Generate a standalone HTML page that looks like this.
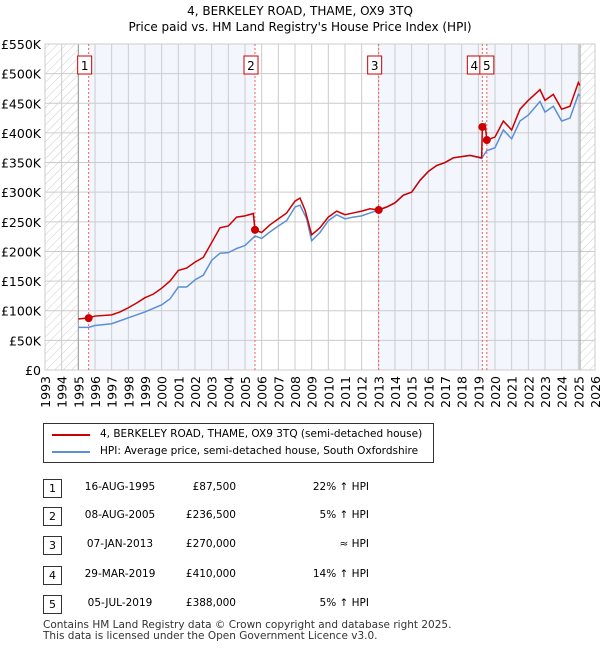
<!DOCTYPE html>
<html><head><meta charset="utf-8"><style>
body{margin:0;width:600px;height:650px;background:#fff;font-family:"DejaVu Sans","Liberation Sans",sans-serif;position:relative;overflow:hidden}
.t{position:absolute;font-size:12px;color:#000}
.box{position:absolute;width:17px;height:17px;border:1px solid #333;font-size:11px;text-align:center;line-height:17px}
</style></head><body>
<div class="t" style="left:0;width:600px;text-align:center;top:4px;font-size:12px">4, BERKELEY ROAD, THAME, OX9 3TQ</div>
<div class="t" style="left:0;width:600px;text-align:center;top:20px;font-size:12px">Price paid vs. HM Land Registry's House Price Index (HPI)</div>
<svg id="chart" width="600" height="420" style="position:absolute;left:0;top:0" font-family="DejaVu Sans, Liberation Sans, sans-serif">
<defs><pattern id="hatch" width="6" height="6" patternUnits="userSpaceOnUse" patternTransform="rotate(45)"><line x1="0" y1="0" x2="0" y2="6" stroke="#ccc" stroke-width="1"/></pattern></defs>
</svg>
<div style="position:absolute;left:43px;top:423px;width:389px;height:38px;border:1px solid #333">
<div style="position:absolute;left:8px;top:10px;width:38px;height:2px;background:#cc0000"></div>
<div class="t" style="left:56px;top:4px;font-size:10.5px">4, BERKELEY ROAD, THAME, OX9 3TQ (semi-detached house)</div>
<div style="position:absolute;left:8px;top:27px;width:38px;height:2px;background:#5b8fd6"></div>
<div class="t" style="left:56px;top:21px;font-size:10.5px">HPI: Average price, semi-detached house, South Oxfordshire</div>
</div>
<div id="tbl"></div>
<div class="t" style="left:43px;top:620px;font-size:10.5px;line-height:11px;color:#333">Contains HM Land Registry data © Crown copyright and database right 2025.<br>This data is licensed under the Open Government Licence v3.0.</div>
<script>
const saleYears=[1995.62,2005.6,2013.02,2019.24,2019.51];
const salePrices=[87.5,236.5,270,410,388];
const saleDates=["16-AUG-1995","08-AUG-2005","07-JAN-2013","29-MAR-2019","05-JUL-2019"];
const salePriceLabels=["£87,500","£236,500","£270,000","£410,000","£388,000"];
const saleHpi=["22% ↑ HPI","5% ↑ HPI","≈ HPI","14% ↑ HPI","5% ↑ HPI"];
const redX=[1995.0,1995.62,1996,1997,1997.5,1998,1998.5,1999,1999.5,2000,2000.5,2001,2001.5,2002,2002.5,2003,2003.5,2004,2004.5,2005,2005.5,2005.6,2006,2006.5,2007,2007.5,2008,2008.3,2008.6,2009,2009.5,2010,2010.5,2011,2011.5,2012,2012.5,2013.02,2013.5,2014,2014.5,2015,2015.5,2016,2016.5,2017,2017.5,2018,2018.5,2019.2,2019.24,2019.4,2019.51,2020,2020.5,2021,2021.5,2022,2022.7,2023,2023.5,2024,2024.5,2025,2025.1];
const redY=[86,88,91,93,98,105,113,122,128,138,150,168,172,182,190,215,240,243,258,260,264,236,232,245,255,265,285,290,270,228,240,258,268,262,265,268,272,270,275,282,295,300,320,335,345,350,358,360,362,358,410,415,388,393,420,405,440,455,473,455,465,440,445,485,480];
const hpiX=[1995.0,1995.62,1996,1997,1998,1999,2000,2000.5,2001,2001.5,2002,2002.5,2003,2003.5,2004,2004.5,2005,2005.6,2006,2006.5,2007,2007.5,2008,2008.3,2008.7,2009,2009.5,2010,2010.5,2011,2011.5,2012,2012.5,2013.02,2013.5,2014,2014.5,2015,2015.5,2016,2016.5,2017,2017.5,2018,2018.5,2019.2,2019.5,2020,2020.5,2021,2021.5,2022,2022.7,2023,2023.5,2024,2024.5,2025,2025.1];
const hpiY=[72,72,75,78,88,98,110,120,140,140,152,160,185,197,198,205,210,226,222,233,243,252,275,278,255,218,232,252,262,255,258,260,265,270,275,282,295,300,320,335,345,350,358,360,362,357,370,375,405,390,420,430,453,435,445,420,425,465,462];
const yTicks=[0,50,100,150,200,250,300,350,400,450,500,550];
const yLabels=["£0","£50K","£100K","£150K","£200K","£250K","£300K","£350K","£400K","£450K","£500K","£550K"];
const xTicks=[1993,1994,1995,1996,1997,1998,1999,2000,2001,2002,2003,2004,2005,2006,2007,2008,2009,2010,2011,2012,2013,2014,2015,2016,2017,2018,2019,2020,2021,2022,2023,2024,2025,2026];

const X0=45,X1=595,Y0=370,Y1=44;
const sx=v=>X0+(v-1993)/33*(X1-X0);
const sy=v=>Y0-v/550*(Y0-Y1);
const svg=document.getElementById('chart');
const NS='http://www.w3.org/2000/svg';
function mk(t,a){const e=document.createElementNS(NS,t);for(const k in a)e.setAttribute(k,a[k]);svg.appendChild(e);return e;}
[[saleYears[0],saleYears[1]],[saleYears[2],saleYears[3]],[saleYears[4],2025.1]].forEach(r=>{
 const e=mk('rect',{x:sx(r[0]),y:Y1,width:sx(r[1])-sx(r[0]),height:Y0-Y1,fill:'#f3f6fd'});
 
 
});
let h1=mk('rect',{x:X0,y:Y1,width:sx(1995)-X0,height:Y0-Y1,fill:'url(#hatch)'});


let h2=mk('rect',{x:sx(2025.1),y:Y1,width:X1-sx(2025.1),height:Y0-Y1,fill:'url(#hatch)'});


yTicks.forEach((v,i)=>{
 mk('line',{x1:X0,x2:X1,y1:sy(v),y2:sy(v),stroke:'#ccc'});
 const t=mk('text',{x:X0-4,y:sy(v)+5,'text-anchor':'end','font-size':12.5});t.textContent=yLabels[i];
 
 
});
xTicks.forEach(v=>{
 mk('line',{x1:sx(v),x2:sx(v),y1:Y1,y2:Y0,stroke:'#ccc'});
 const t=mk('text',{x:0,y:0,'font-size':12.5,'text-anchor':'end',transform:`translate(${sx(v)+5},${Y0+6}) rotate(-90)`});t.textContent=v;
 
 
});
mk('line',{x1:sx(1995),x2:sx(1995),y1:Y1,y2:Y0,stroke:'#999'});
mk('line',{x1:sx(2025.1),x2:sx(2025.1),y1:Y1,y2:Y0,stroke:'#999'});
mk('rect',{x:X0,y:Y1,width:X1-X0,height:Y0-Y1,fill:'none',stroke:'#ccc'});
saleYears.forEach((v,i)=>{
 mk('line',{x1:sx(v),x2:sx(v),y1:Y1,y2:Y0,stroke:'#f06060','stroke-dasharray':'2,2'});
});
const hp=mk('polyline',{points:hpiX.map((x,i)=>sx(x)+','+sy(hpiY[i])).join(' '),fill:'none',stroke:'#5b8fd6','stroke-width':1.5});


const rp=mk('polyline',{points:redX.map((x,i)=>sx(x)+','+sy(redY[i])).join(' '),fill:'none',stroke:'#cc0000','stroke-width':1.5});


saleYears.forEach((v,i)=>{
 const c=mk('circle',{cx:sx(v),cy:sy(salePrices[i]),r:4,fill:'#cc0000'});
 
 
 const bx=sx(v)-11+(i==4?4:0)-(i==3?4:0);
 const r=mk('rect',{x:bx,y:56,width:14,height:18,fill:'#fff',stroke:'#cc0000'});
 
 
 const t=mk('text',{x:bx+7,y:70,'text-anchor':'middle','font-size':12});t.textContent=i+1;
 
 
});
const tbl=document.getElementById('tbl');
const rowsY=[479,507,536,566,595];
saleYears.forEach((v,i)=>{
 const y=rowsY[i];
 const b=document.createElement('div');b.className='box';b.style.left='43px';b.style.top=y+'px';b.textContent=i+1;
 
 
 tbl.appendChild(b);
 [[saleDates[i],75,'center',90],[salePriceLabels[i],176,'right',60],[saleHpi[i],290,'right',79]].forEach(c=>{
  const d=document.createElement('div');d.className='t';d.style.left=c[1]+'px';d.style.top=(y+2)+'px';d.style.width=c[3]+'px';d.style.textAlign=c[2];d.style.fontSize='10.5px';d.textContent=c[0];
  
  
  tbl.appendChild(d);
 });
});
</script>
</body></html>
